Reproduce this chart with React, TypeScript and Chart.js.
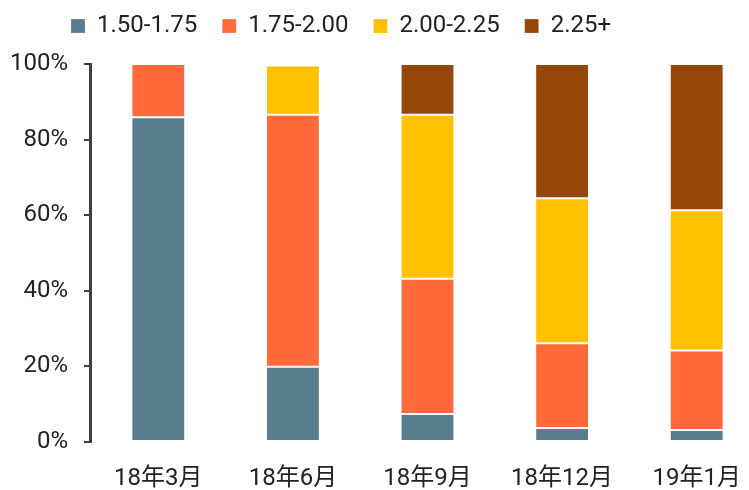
import React, { useEffect, useRef } from "react";
import { Chart, registerables } from "chart.js";

Chart.register(...registerables);

const categories = ["18年3月", "18年6月", "18年9月", "18年12月", "19年1月"];
const seriesNames = ["1.50-1.75", "1.75-2.00", "2.00-2.25", "2.25+"];
const s150 = [85.9, 19.9, 7.4, 3.7, 3.2];
const s175 = [14.1, 66.7, 35.8, 22.4, 21.0];
const s200 = [0, 13.0, 43.4, 38.4, 37.1];
const s225 = [0, 0.4, 13.4, 35.5, 38.7];
const colors = ["#587E8E", "#FF6A3A", "#FFC000", "#954709"];
const yStep = 20;

const FONT = "Roboto, 'Noto Sans CJK JP', sans-serif";
const AXIS = "#3a3f4b";

const shiftLegend = {
  id: "shiftLegend",
  afterLayout(chart: any) {
    const l = chart.legend;
    if (l) {
      l.left += 46;
      l.right += 46;
    }
  },
};

const yAxisLine = {
  id: "yAxisLine",
  afterDraw(chart: any) {
    const y = chart.scales.y;
    const ctx = chart.ctx;
    ctx.save();
    ctx.strokeStyle = AXIS;
    ctx.lineWidth = 2;
    ctx.beginPath();
    ctx.moveTo(y.right - 1, y.top - 1);
    ctx.lineTo(y.right - 1, y.bottom + 1);
    ctx.stroke();
    ctx.restore();
  },
};

export default function App() {
  const ref = useRef<HTMLCanvasElement | null>(null);
  useEffect(() => {
    if (!ref.current) return;
    const values = [s150, s175, s200, s225];
    const chart = new Chart(ref.current, {
      type: "bar",
      data: {
        labels: categories,
        datasets: seriesNames.map((name, i) => ({
          label: name,
          data: values[i],
          backgroundColor: colors[i],
          borderColor: "rgba(255,255,255,0.22)",
          borderWidth: 1,
          borderSkipped: false,
          barPercentage: 0.4,
          categoryPercentage: 1.0,
        })),
      },
      plugins: [shiftLegend, yAxisLine],
      options: {
        responsive: false,
        animation: false,
        layout: { padding: { left: 0, right: 6, top: 0, bottom: 0 } },
        plugins: {
          tooltip: { enabled: false },
          legend: {
            position: "top",
            align: "start",
            labels: {
              boxWidth: 14,
              boxHeight: 14,
              padding: 25,
              color: "#222",
              font: { family: FONT, size: 24 },
            },
          },
          subtitle: {
            display: true,
            text: " ",
            position: "top",
            weight: 500,
            font: { size: 1, lineHeight: 1 },
            padding: { top: 0, bottom: 15 },
          } as any,
        },
        scales: {
          x: {
            stacked: true,
            afterFit: (scale: any) => {
              scale.height = 48;
            },
            grid: { display: false, drawTicks: false },
            border: { display: false },
            ticks: {
              color: "#222",
              padding: 23,
              font: { family: FONT, size: 24 },
              maxRotation: 0,
            },
          },
          y: {
            stacked: true,
            min: 0,
            max: 100,
            afterFit: (scale: any) => {
              scale.width = 91;
            },
            grid: {
              drawOnChartArea: false,
              drawTicks: true,
              tickLength: 7,
              color: AXIS,
              lineWidth: 2,
            },
            border: { display: true, color: AXIS, width: 2 },
            ticks: {
              stepSize: yStep,
              color: "#222",
              padding: 16,
              font: { family: FONT, size: 24 },
              callback: (v: any) => v + "%",
            },
          },
        },
      },
    });
    return () => chart.destroy();
  }, []);
  return (
    <div
      style={{
        position: "absolute",
        left: 0,
        top: 0,
        width: 749,
        height: 490,
        overflow: "hidden",
        background: "#fff",
      }}
    >
      <canvas
        ref={ref}
        width={770}
        height={501}
        style={{ display: "block", position: "absolute", left: 0, top: -11 }}
      />
    </div>
  );
}
